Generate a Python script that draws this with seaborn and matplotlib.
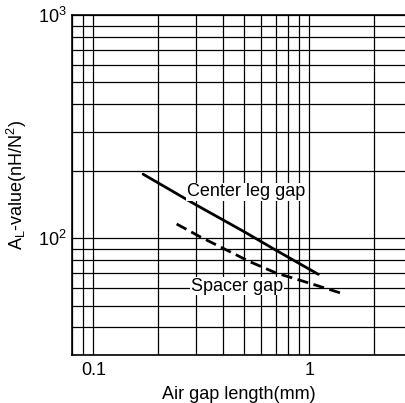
import pandas as pd
import matplotlib.pyplot as plt
import matplotlib.ticker as mticker
import seaborn as sns

# Center leg gap curve
center_x = [0.17, 0.3, 0.5, 0.7, 1.1]
center_y = [194, 141, 107, 88.5, 69]

# Spacer gap curve
spacer_x = [0.243, 0.31, 0.53, 0.7, 1.0, 1.41]
spacer_y = [116, 102, 78.6, 70, 63, 56.7]

x_ticks = [0.1, 1]
x_tick_labels = ["0.1", "1"]
y_ticks = [100, 1000]
y_tick_labels = [r"10$^\mathregular{2}$", r"10$^\mathregular{3}$"]

df = pd.concat([
    pd.DataFrame({"gap": center_x, "al": center_y, "type": "Center leg gap"}),
    pd.DataFrame({"gap": spacer_x, "al": spacer_y, "type": "Spacer gap"}),
])

sns.set_theme(style="white")
plt.rcParams["font.family"] = ["Liberation Sans", "DejaVu Sans"]
plt.rcParams["mathtext.fontset"] = "custom"
plt.rcParams["mathtext.rm"] = "Liberation Sans"
plt.rcParams["text.color"] = "black"
plt.rcParams["axes.labelcolor"] = "black"

fig = plt.figure(figsize=(4.05, 4.03), dpi=100)
ax = fig.add_axes([72 / 405, 48 / 403, 333 / 405, 339.7 / 403])

sns.lineplot(data=df, x="gap", y="al", style="type", ax=ax, color="black",
             linewidth=2, dashes={"Center leg gap": "", "Spacer gap": (4, 2)},
             legend=False, zorder=3)

ax.set_xscale("log")
ax.set_yscale("log")
ax.set_xlim(0.0797, 2.77)
ax.set_ylim(30, 1000)

ax.xaxis.set_major_locator(mticker.FixedLocator(x_ticks))
ax.xaxis.set_major_formatter(mticker.FixedFormatter(x_tick_labels))
ax.yaxis.set_major_locator(mticker.FixedLocator(y_ticks))
ax.yaxis.set_major_formatter(mticker.FixedFormatter(y_tick_labels))
ax.xaxis.set_minor_locator(mticker.LogLocator(base=10, subs=range(2, 10)))
ax.yaxis.set_minor_locator(mticker.LogLocator(base=10, subs=range(2, 10)))
ax.xaxis.set_minor_formatter(mticker.NullFormatter())
ax.yaxis.set_minor_formatter(mticker.NullFormatter())

ax.grid(True, which="both", color="black", linewidth=0.9)
ax.tick_params(which="both", length=0, labelsize=13, colors="black")
ax.tick_params(axis="x", pad=5)
ax.tick_params(axis="y", pad=4)

for side in ["left", "bottom", "top"]:
    ax.spines[side].set_color("black")
    ax.spines[side].set_linewidth(1.2)
ax.spines["right"].set_visible(False)

ax.set_xlabel("Air gap length(mm)", fontsize=13, labelpad=5)
ax.set_ylabel(r"A$_\mathregular{L}$-value(nH/N$^\mathregular{2}$)", fontsize=13,
              labelpad=6)

box = dict(facecolor="white", edgecolor="none", pad=0.5)
ax.text(0.2707, 161.8, "Center leg gap", fontsize=13, ha="left", va="center",
        bbox=box, zorder=4)
ax.text(0.2825, 61.1, "Spacer gap", fontsize=13, ha="left", va="center",
        bbox=box, zorder=4)

plt.savefig("out.png", dpi=100)
